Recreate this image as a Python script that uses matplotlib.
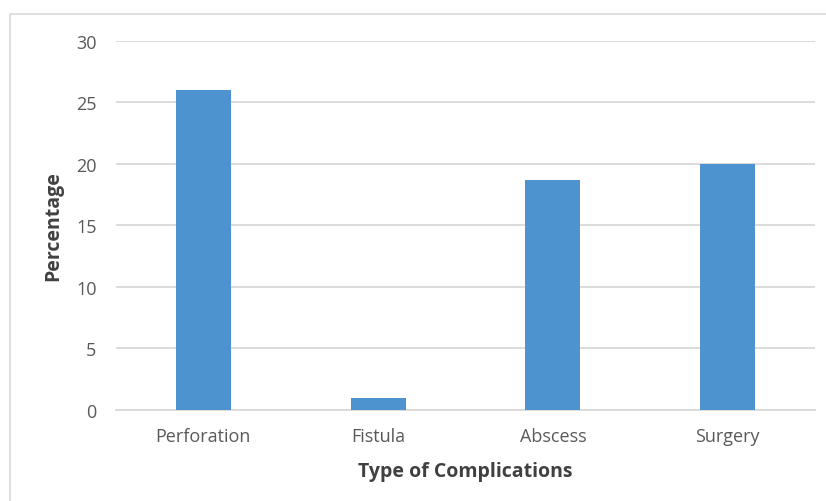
import matplotlib.pyplot as plt
from matplotlib.patches import Rectangle

# Complications data
categories = ["Perforation", "Fistula", "Abscess", "Surgery"]
percentages = [26, 1, 18.7, 20]
yticks = [0, 5, 10, 15, 20, 25, 30]

plt.rcParams["font.family"] = ["Open Sans", "DejaVu Sans"]

fig = plt.figure(figsize=(8.26, 5.02), dpi=100)
ax = fig.add_axes([0.1404, 0.1813, 0.8463, 0.7357])

# light frame around the chart area (right/bottom run off the picture)
fig.patches.append(Rectangle((10 / 826, -0.1), 1.2, 1 - 15 / 502 + 0.1,
                             transform=fig.transFigure, fill=False,
                             edgecolor="#d9d9d9", linewidth=1.2))

x = range(len(categories))
ax.bar(x, percentages, width=0.315, color="#4c93d0", zorder=3)

ax.set_xlim(-0.5, len(categories) - 0.5)
ax.set_ylim(0, 30)
ax.set_yticks(yticks)
ax.set_xticks(list(x))
ax.set_xticklabels(categories)
ax.yaxis.grid(True, color="#d9d9d9", linewidth=1.3, zorder=0)
ax.set_axisbelow(True)

for side in ["top", "right", "left"]:
    ax.spines[side].set_visible(False)
ax.spines["bottom"].set_color("#d9d9d9")
ax.spines["bottom"].set_linewidth(1.3)
ax.tick_params(axis="both", length=0, labelsize=13, labelcolor="#595959")
ax.tick_params(axis="y", pad=14)
ax.tick_params(axis="x", pad=12)

ax.set_ylabel("Percentage", fontsize=14, fontweight="bold", color="#404040", labelpad=9)
ax.set_xlabel("Type of Complications", fontsize=14, fontweight="bold", color="#404040", labelpad=12)

plt.savefig("out.png", dpi=100)
